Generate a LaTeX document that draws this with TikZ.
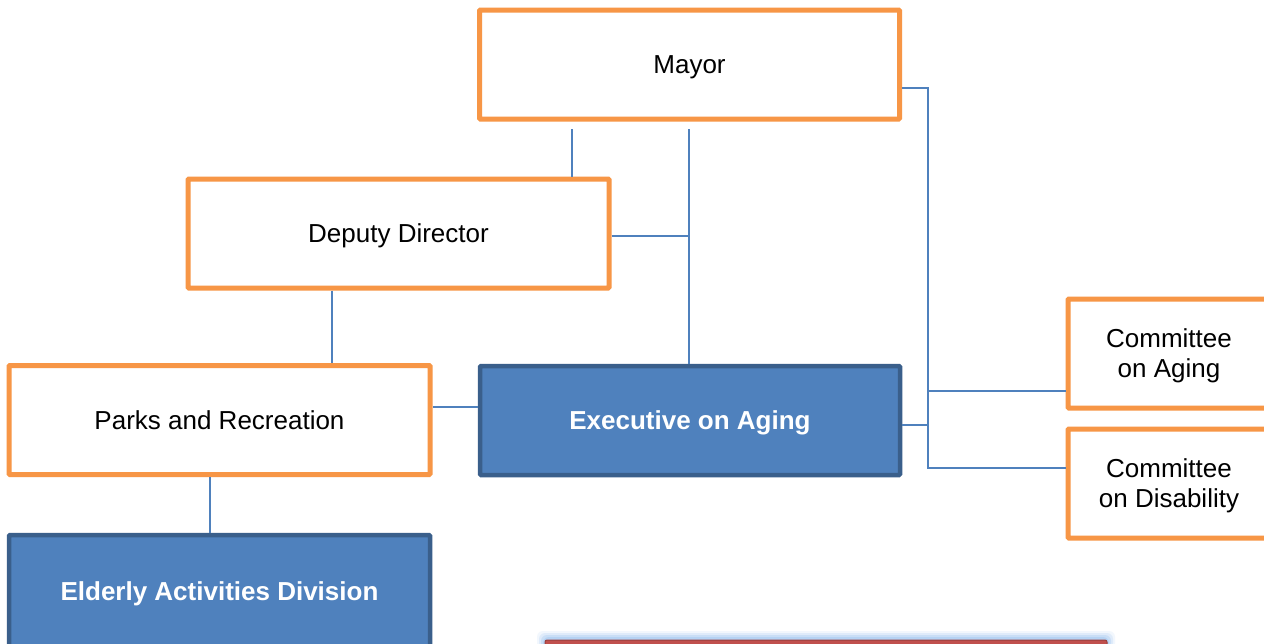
\documentclass[tikz,border=0pt]{standalone}
\usepackage{fontspec}
\setmainfont{Liberation Sans}
\definecolor{orng}{HTML}{F79646}
\definecolor{lblue}{HTML}{4F81BD}
\definecolor{dblue}{HTML}{3A5F8B}
\definecolor{redf}{HTML}{C0504D}
\definecolor{glow}{HTML}{A9CBF2}
\begin{document}
\begin{tikzpicture}[x=1pt,y=-1pt,
  every node/.style={font=\fontsize{26}{30}\selectfont, align=center, inner sep=0pt, text depth=0pt},
  obox/.style={draw=orng, line width=5pt, fill=white, rounded corners=1pt},
  bbox/.style={draw=dblue, line width=4.5pt, fill=lblue, text=white, font=\fontsize{26}{30}\selectfont\bfseries, rounded corners=1pt},
  conn/.style={draw=lblue, line width=1.6pt}]
\path[use as bounding box] (0,0) rectangle (1264,643);
\clip (0,0) rectangle (1264,643);
\fill[white] (0,0) rectangle (1264,643);

% boxes (minimum size = centreline size)
\node[obox, minimum width=420pt, minimum height=109pt] (mayor) at (689.5,64.5) {Mayor};
\node[obox, minimum width=421pt, minimum height=109pt] (deputy) at (398.5,233.5) {Deputy Director};
\node[obox, minimum width=421pt, minimum height=109pt] (parks) at (219.5,420) {Parks and Recreation};
\node[bbox, minimum width=420pt, minimum height=109pt] (exec) at (690,420.5) {Executive on Aging};
\node[bbox, minimum width=421pt, minimum height=112pt] (elderly) at (219.5,591) {Elderly Activities Division};
\node[obox, minimum width=202pt, minimum height=109pt] (caging) at (1169,353.5) {Committee\\on Aging};
\node[obox, minimum width=202pt, minimum height=109pt] (cdis) at (1169,483.5) {Committee\\on Disability};

% red box with glow at the bottom
\foreach \i/\op in {8/0.15,6/0.25,4/0.4,2/0.6}{
  \fill[glow, opacity=\op, rounded corners=6pt] (545-\i,639-\i) rectangle (1107+\i,660);
}
\node[draw=redf!80!black, line width=1pt, fill=redf, minimum width=562pt, minimum height=30pt, rounded corners=2pt] (redbox) at (826,655) {};

% connector helper points
\coordinate (m1) at (572,129);
\coordinate (m2) at (689,129);
\coordinate (j1) at (689,236);
\coordinate (r0) at (928,88);
\coordinate (r1) at (928,391);
\coordinate (r2) at (928,425);
\coordinate (r3) at (928,468);

% connectors
\draw[conn] (m1) -- (m1 |- deputy.north);
\draw[conn] (m2) -- (m2 |- exec.north);
\draw[conn] (deputy.east |- j1) -- (j1);
\draw[conn] (deputy.south -| 332,0) -- (parks.north -| 332,0);
\draw[conn] (parks.east |- 0,407) -- (exec.west |- 0,407);
\draw[conn] (parks.south -| 210,0) -- (elderly.north -| 210,0);
\draw[conn] (mayor.east |- r0) -- (r0) -- (r3) -- (cdis.west |- r3);
\draw[conn] (r1) -- (caging.west |- r1);
\draw[conn] (exec.east |- r2) -- (r2);
\end{tikzpicture}
\end{document}
